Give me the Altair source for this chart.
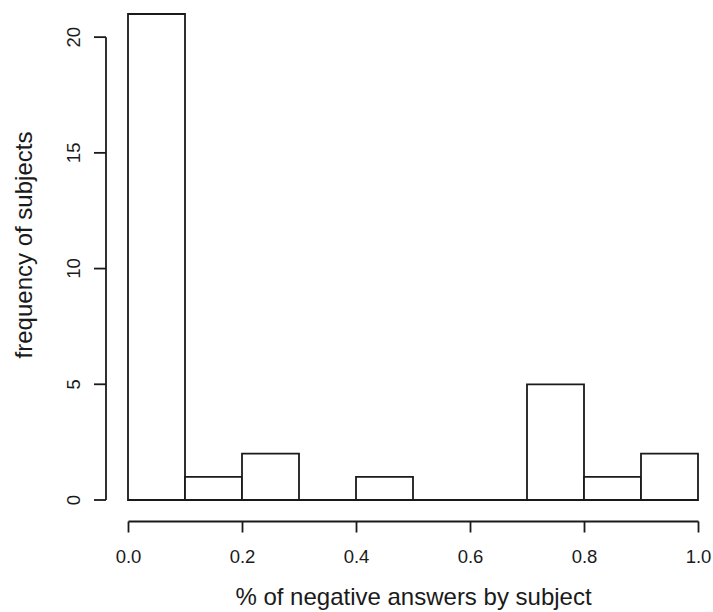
import altair as alt
import pandas as pd

bin_start = [0.0, 0.1, 0.2, 0.3, 0.4, 0.5, 0.6, 0.7, 0.8, 0.9]
bin_end = [0.1, 0.2, 0.3, 0.4, 0.5, 0.6, 0.7, 0.8, 0.9, 1.0]
counts = [21, 1, 2, 0, 1, 0, 0, 5, 1, 2]
x_ticks = [0.0, 0.2, 0.4, 0.6, 0.8, 1.0]
y_ticks = [0, 5, 10, 15, 20]
x_title = "% of negative answers by subject"
y_title = "frequency of subjects"

df = pd.DataFrame({"start": bin_start, "end": bin_end, "count": counts,
                   "zero": [0] * len(counts)})
yt = pd.DataFrame({"count": y_ticks, "label": [str(v) for v in y_ticks]})
ydom = pd.DataFrame({"count": [y_ticks[0]], "top": [y_ticks[-1]]})
ttl = pd.DataFrame({"label": [y_title]})

FONT = "Liberation Sans"
INK = "#1a1a1a"
LW = 1.8
xscale = alt.Scale(domain=[0, 1], range=[128, 698], nice=False, zero=False)
yscale = alt.Scale(domain=[0, 21], range=[500, 14], nice=False)

bars = alt.Chart(df).mark_rect(fill="white", stroke=INK, strokeWidth=LW).encode(
    x=alt.X("start:Q", scale=xscale,
            axis=alt.Axis(values=x_ticks, format=".1f", offset=21, tickSize=11,
                          tickWidth=LW, tickColor=INK, domainWidth=LW, domainColor=INK,
                          labelFontSize=18.5, labelColor=INK, labelPadding=15,
                          labelFlush=False, grid=False,
                          title=x_title, titleX=413,
                          titleFontSize=24, titleFontWeight="normal", titleColor=INK,
                          titlePadding=20)),
    x2="end:Q",
    y=alt.Y("count:Q", scale=yscale, axis=None),
    y2="zero:Q",
)

ydomain = alt.Chart(ydom).mark_rule(color=INK, strokeWidth=LW).encode(
    y=alt.Y("count:Q", scale=yscale, axis=None), y2="top:Q", x=alt.value(106)
)
yticks = alt.Chart(yt).mark_rule(color=INK, strokeWidth=LW).encode(
    y=alt.Y("count:Q", scale=yscale, axis=None), x=alt.value(94), x2=alt.value(106)
)
ylabels = alt.Chart(yt).mark_text(
    angle=270, align="center", baseline="alphabetic", fontSize=18.5,
    font=FONT, color=INK
).encode(
    y=alt.Y("count:Q", scale=yscale, axis=None), x=alt.value(80), text="label:N"
)
ytitle = alt.Chart(ttl).mark_text(
    angle=270, align="center", baseline="alphabetic", fontSize=24,
    font=FONT, color=INK
).encode(x=alt.value(32), y=alt.value(245), text="label:N")

chart = alt.layer(bars, ydomain, yticks, ylabels, ytitle).properties(
    width=713, height=500,
    autosize=alt.AutoSizeParams(type="none"),
    padding={"left": 0, "top": 0, "right": 0, "bottom": 112},
).configure(font=FONT).configure_view(stroke=None)

chart.save("out.html", embed_options={"renderer": "svg", "actions": False})
